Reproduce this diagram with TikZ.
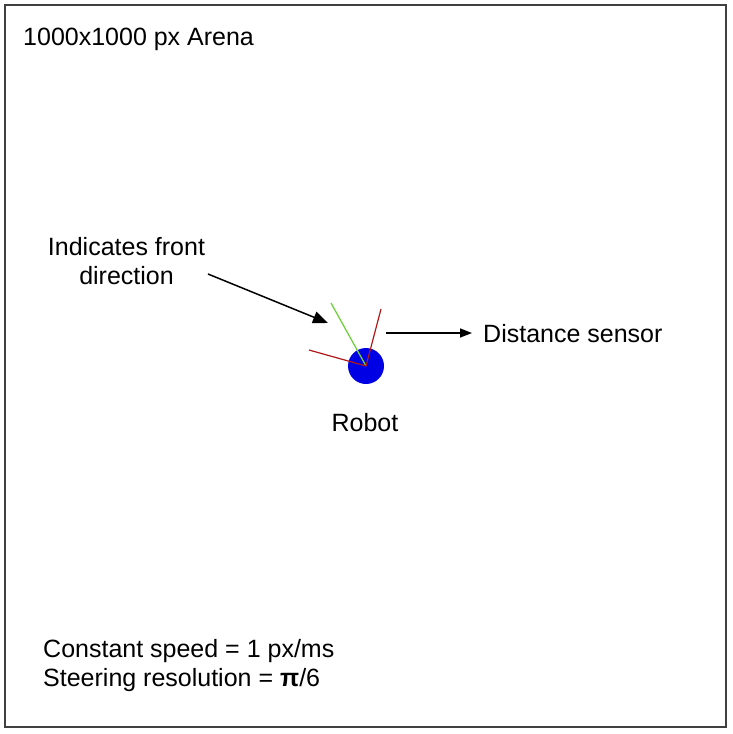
\documentclass[tikz,border=0pt]{standalone}
\usepackage{fontspec}
\setmainfont{Liberation Sans}
\usetikzlibrary{arrows.meta}

\definecolor{frontgreen}{RGB}{110,210,60}
\definecolor{sensorred}{RGB}{175,25,25}

\begin{document}
\begin{tikzpicture}[
  x=1pt, y=-1pt,
  font=\fontsize{25}{29}\selectfont,
  frame/.style={draw=black!75, line width=1.6pt},
  lbl/.style={inner sep=0pt},
  robotdot/.style={circle, fill=blue!90!black, draw=none, minimum size=36pt, inner sep=0pt},
  frontline/.style={draw=frontgreen, line width=1.3pt},
  sensorline/.style={draw=sensorred, line width=1.2pt},
  pointer/.style={draw=black, line width=1.5pt, -{Triangle[length=15pt,width=12pt]}},
]
\useasboundingbox (0,0) rectangle (733,734);

% arena border
\draw[frame] (5,5) rectangle (726,727);

\node[lbl, anchor=base west] (arena) at (23,45) {1000x1000 px Arena};

% robot with its front and sensor rays
\node[robotdot] (robot) at (366,366) {};
\coordinate (fronttip) at (331,303);
\coordinate (sensorleft) at (309,350);
\coordinate (sensorright) at (381,309);
\draw[frontline] (robot.center) -- (fronttip);
\draw[sensorline] (robot.center) -- (sensorleft);
\draw[sensorline] (robot.center) -- (sensorright);

\node[lbl, anchor=base] (robotlbl) at (365,431) {Robot};

% labels and pointers
\node[lbl, anchor=north, align=center] (front) at (126.5,237) {Indicates front\\direction};
\coordinate (frontstart) at (208,274);
\coordinate (frontend) at (328,323);
\draw[pointer] (frontstart) -- (frontend);

\node[lbl, anchor=base west] (sensor) at (483,342) {Distance sensor};
\coordinate (sensorstart) at (386,333);
\draw[pointer, -{Triangle[length=12pt,width=9pt]}] (sensorstart) -- ([xshift=-11pt]sensor.west |- sensorstart);

\node[lbl, anchor=base west, align=left] (params) at (43,686)
  {Constant speed = 1 px/ms\\Steering resolution = \textbf{π}/6};

\end{tikzpicture}
\end{document}
